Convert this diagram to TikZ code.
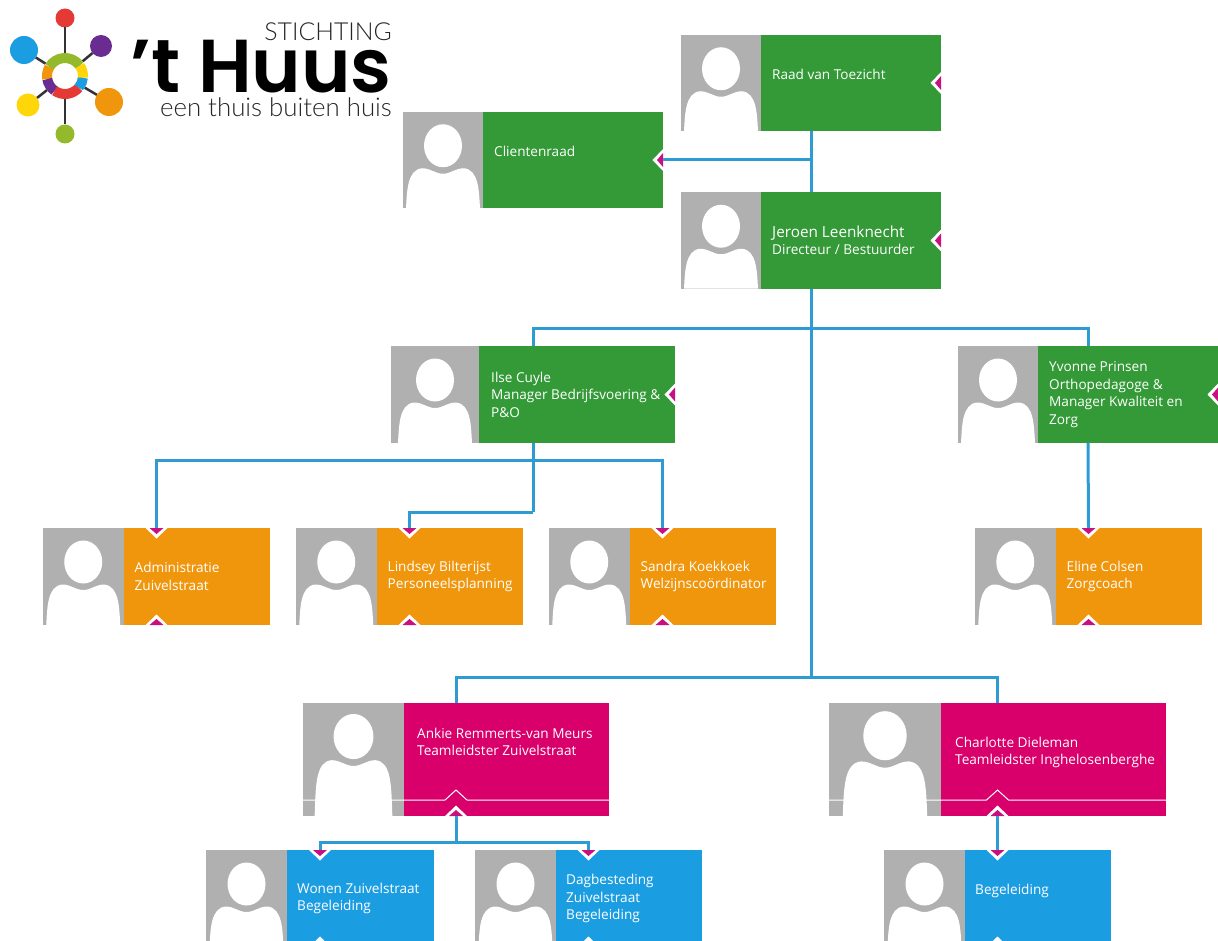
\documentclass[tikz,border=0pt]{standalone}
\usepackage{fontspec}
\setmainfont{Open Sans}
\newfontfamily\logofont{Poppins SemiBold}
\newfontfamily\taglinefont{Lato Light}
\usetikzlibrary{positioning}

\definecolor{cardgreen}{HTML}{339A37}
\definecolor{cardorange}{HTML}{F0960D}
\definecolor{cardpink}{HTML}{D9006C}
\definecolor{cardblue}{HTML}{1B9DE2}
\definecolor{photogrey}{HTML}{B0B0B0}
\definecolor{linkblue}{HTML}{2F9BD3}
\definecolor{tipmagenta}{HTML}{C8107E}
\definecolor{logored}{HTML}{E53935}
\definecolor{logopurple}{HTML}{6A2C91}
\definecolor{logoyellow}{HTML}{FFD60A}
\definecolor{logogreen}{HTML}{94B92A}

\tikzset{
  photobox/.style={rectangle,fill=photogrey,inner sep=0pt,outer sep=0pt},
  cardbody/.style={rectangle,anchor=north east,inner sep=0pt,outer sep=0pt},
  cardtext/.style={anchor=west,inner sep=0pt,text=white,align=left,
                   font=\fontsize{13.6}{17.5}\selectfont},
  link/.style={draw=linkblue,line width=3pt},
  foldline/.style={draw=white,line width=1pt},
  dot/.style={circle,inner sep=0pt,outer sep=0pt},
  spoke/.style={draw=black!80,line width=2.5pt},
  logotext/.style={anchor=base east,inner sep=0pt,text depth=0pt},
  pics/silhouette/.style={code={
    \fill[white] (0,34) ellipse [x radius=19,y radius=21.5];
    \fill[white] (-37,#1) .. controls (-36,80) and (-36,58) .. (-21,56.5)
      .. controls (-12,56.5) and (-8,62) .. (0,62)
      .. controls (8,62) and (12,56.5) .. (21,56.5)
      .. controls (36,58) and (36,80) .. (37,#1) -- cycle;}},
  pics/tip/.style={code={
    \fill[white] (-11,0) -- (0,-10.5) -- (11,0) -- cycle;
    \fill[tipmagenta] (-7,0) -- (0,-6) -- (7,0) -- cycle;}},
}

% [text inset]{name}{place}{width}{height}{photo width}{colour}{text}
\newcommand{\orgcard}[8][11]{
  \pgfmathsetmacro{\bodyw}{#4-#6}
  \pgfmathsetmacro{\photoc}{#6/2}
  \pgfmathsetmacro{\silk}{max(1,1+(#6-95)/120)}
  \pgfmathsetmacro{\sils}{(\silk-1)*43}
  \pgfmathsetmacro{\silh}{(#5+\sils)/\silk}
  \node[photobox,minimum width=#4pt,minimum height=#5pt,#3] (#2) {};
  \pic[scale=\silk] at ([xshift=\photoc pt,yshift=\sils pt]#2.north west) {silhouette=\silh};
  \node[cardbody,fill=#7,minimum width=\bodyw pt,minimum height=#5pt] (#2-body) at (#2.north east) {};
  \node[cardtext] (#2-text) at ([xshift=#1pt]#2-body.west) {#8};
}

\begin{document}
\begin{tikzpicture}[x=1pt,y=-1pt]
  \clip (0,0) rectangle (1218,941);
  \fill[white] (0,0) rectangle (1218,941);

  %% logo
  \node[dot,minimum size=46pt] (hub) at (65,76) {};
  \node[dot,fill=logored,minimum size=19pt]      (dotred)    at (65,18)   {};
  \node[dot,fill=logopurple,minimum size=22pt]   (dotpurple) at (101,46)  {};
  \node[dot,fill=cardblue,minimum size=28pt]     (dotblue)   at (24,50)   {};
  \node[dot,fill=logoyellow,minimum size=23pt]   (dotyellow) at (28,105)  {};
  \node[dot,fill=cardorange,minimum size=28pt]   (dotorange) at (109,102) {};
  \node[dot,fill=logogreen,minimum size=19pt]    (dotgreen)  at (65,134)  {};
  \foreach \d in {dotred,dotpurple,dotblue,dotyellow,dotorange,dotgreen}
    \draw[spoke] (hub) -- (\d);
  \foreach \a/\b/\c in {35/150/logogreen,150/190/cardorange,190/235/logopurple,
                        235/320/logored,320/355/cardblue,355/395/logoyellow}
    \draw[\c,line width=10pt] ([shift={(-\a:18)}]hub.center)
      arc [start angle=-\a,end angle=-\b,radius=18];
  \node[logotext,font=\fontsize{75}{75}\selectfont\logofont] (huus) at (392,93) {’t Huus};
  \node[logotext,font=\fontsize{24.8}{24.8}\selectfont\taglinefont,text=black!85]
    (stichting) at (392,41) {STICHTING};
  \node[logotext,font=\fontsize{25.8}{25.8}\selectfont\taglinefont,text=black!85]
    (tagline) at (392,117) {een thuis buiten huis};

  %% cards
  \orgcard{raad}{at={(811,83)}}{260}{96.5}{80}{cardgreen}{Raad van Toezicht\\~}
  \orgcard{jeroen}{below=61pt of raad}{260}{96.5}{80}{cardgreen}
    {{\fontsize{15.3}{17.5}\selectfont Jeroen Leenknecht}\\Directeur / Bestuurder}
  \orgcard{client}{at={(533,160)}}{260}{96.5}{80}{cardgreen}{Clientenraad\\~}
  \orgcard[12]{ilse}{at={(533,394.5)}}{284}{97}{88}{cardgreen}
    {Ilse Cuyle\\Manager Bedrijfsvoering \&\\P\&O}
  \orgcard{yvonne}{right=283pt of ilse}{260}{97}{80}{cardgreen}
    {Yvonne Prinsen\\Orthopedagoge \&\\Manager Kwaliteit en\\Zorg}
  \orgcard{admin}{at={(156.5,576.5)}}{227}{97}{80.5}{cardorange}{Administratie\\Zuivelstraat}
  \orgcard{lindsey}{right=26pt of admin}{227}{97}{80.5}{cardorange}{Lindsey Bilterijst\\Personeelsplanning}
  \orgcard{sandra}{right=26pt of lindsey}{227}{97}{80.5}{cardorange}{Sandra Koekkoek\\Welzijnscoördinator}
  \orgcard{eline}{at={(1088.5,576.5)}}{227}{97}{80.5}{cardorange}{Eline Colsen\\Zorgcoach}
  \orgcard[13]{ankie}{at={(456,759.5)}}{306}{113}{101}{cardpink}
    {Ankie Remmerts-van Meurs\\Teamleidster Zuivelstraat\\~\\~}
  \orgcard[14]{charlotte}{right=220pt of ankie}{337}{113}{112}{cardpink}
    {Charlotte Dieleman\\Teamleidster Inghelosenberghe\\~}
  \orgcard[10]{wonen}{at={(320,898.5)}}{228}{97}{81}{cardblue}{Wonen Zuivelstraat\\Begeleiding}
  \orgcard[10]{dag}{right=41pt of wonen}{227}{97}{81}{cardblue}{Dagbesteding\\Zuivelstraat\\Begeleiding}
  \orgcard[10]{bege}{at={(997.5,898.5)}}{227}{97}{81}{cardblue}{Begeleiding\\~}

  \foreach \n in {ankie,charlotte}
    \draw[foldline] ([yshift=16pt]\n.south west) -- ([xshift=-11pt,yshift=16pt]\n.south)
      -- ([yshift=26pt]\n.south) -- ([xshift=11pt,yshift=16pt]\n.south)
      -- ([yshift=16pt]\n.south east);

  %% connectors
  \coordinate (railtop)  at (811,328);
  \coordinate (railmid)  at (811,677);
  \coordinate (raililse) at (533,460);
  \coordinate (raillin)  at (533,512);
  \coordinate (railank)  at (456,842);
  \path[link]
    (raad.south) edge (jeroen.north)
    (raad.south |- client.east) edge (client.east)
    (jeroen.south) edge (railmid)
    (ilse.south) edge (raillin);
  \draw[link] (ilse.north) |- (railtop) -| (yvonne.north);
  \draw[link] (ankie.north) |- (railmid) -| (charlotte.north);
  \draw[link] (admin.north) |- (raililse) -| (sandra.north);
  \draw[link] (raillin) -| (lindsey.north);
  \draw[link] (yvonne.south) -- (eline.north);
  \draw[link] (ankie.south) -- (railank);
  \draw[link] (wonen.north) |- (railank) -| (dag.north);
  \draw[link] (charlotte.south) -- (bege.north);

  %% arrow tips on the cards
  \foreach \n in {raad,jeroen,client,ilse,yvonne}
    \pic[rotate=90] at (\n.east) {tip};
  \foreach \n in {admin,lindsey,sandra,eline,wonen,dag,bege}
    \pic[rotate=180] at (\n.north) {tip};
  \foreach \n in {admin,lindsey,sandra,eline,ankie,charlotte,wonen,dag,bege}
    \pic at (\n.south) {tip};
\end{tikzpicture}
\end{document}
